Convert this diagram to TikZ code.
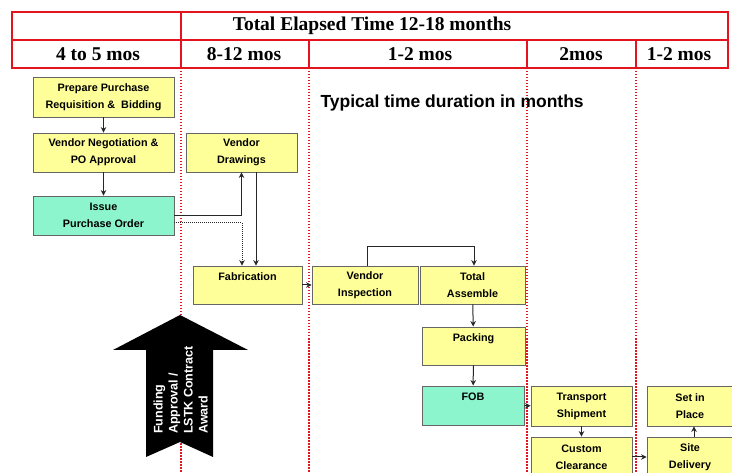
\documentclass[tikz,border=0pt]{standalone}
\usepackage{fontspec}
\setmainfont{Liberation Serif}
\setsansfont{Liberation Sans}
\usepackage{tikz}
\usetikzlibrary{positioning}
\usetikzlibrary{calc,arrows.meta}

\definecolor{BoxYellow}{RGB}{255,255,153}
\definecolor{BoxTeal}{RGB}{140,245,205}
\definecolor{HeadRed}{RGB}{228,20,30}

\begin{document}
\begin{tikzpicture}[x=1pt,y=-1pt,
	task/.style={draw=black!60,line width=0.9pt,fill=BoxYellow,inner sep=0pt,
		align=center,font=\sffamily\bfseries\fontsize{10.8}{17}\selectfont},
	milestone/.style={task,fill=BoxTeal},
	link/.style={line width=1pt,black!85,-{Stealth[length=5.5pt,width=5.5pt]}},
	phase/.style={HeadRed,line width=2pt,dash pattern=on 1.5pt off 1.5pt},
	head/.style={font=\bfseries\fontsize{19.5}{21}\selectfont}]
	
	\useasboundingbox (0,0) rectangle (732,473);
	\clip (0,0) rectangle (732,473);
	
	% phase separators, drawn first so the boxes sit on top
	\foreach \px in {181,309,527,636}
		\draw[phase] (\px,68) -- (\px,473);
	
	%%%%%%%%%%%%%%%%%%%%%%%%%%%%%%%%%%%%%%%%%%%%%%%%%%%%%%%%%%%%%%
	% header table
	\draw[HeadRed,line width=1.5pt] (12,40) -- (728,40);
	\draw[HeadRed,line width=1.5pt] (181,12) -- (181,68);
	\foreach \px in {309,527,636}
		\draw[HeadRed,line width=1.5pt] (\px,40) -- (\px,68);
	\draw[HeadRed,line width=2.6pt] (12,12) rectangle (728,68);
	
	\node[head] (Total) at (372,26) {Total Elapsed Time 12-18 months};
	\node[head] (P1) at (98,54)  {4 to 5 mos};
	\node[head] (P2) at (244,54) {8-12 mos};
	\node[head] (P3) at (420,54) {1-2 mos};
	\node[head] (P4) at (581,54) {2mos};
	\node[head] (P5) at (679,54) {1-2 mos};
	
	\node[anchor=west,font=\sffamily\bfseries\fontsize{17.5}{20}\selectfont] (Typical) at (317,103) {Typical time duration in months};
	
	%%%%%%%%%%%%%%%%%%%%%%%%%%%%%%%%%%%%%%%%%%%%%%%%%%%%%%%%%%%%%%
	% funding arrow
	\fill[black] (180,315) -- (248,350) -- (213,350) -- (213,457) -- (180,442)
		-- (146,457) -- (146,350) -- (113,350) -- cycle;
	\node[rotate=90,anchor=south west,white,align=left,inner sep=0pt,
		font=\sffamily\bfseries\fontsize{12.5}{15}\selectfont] (Award) at (208,434)
		{Funding\\Approval /\\LSTK Contract\\Award};
	
	%%%%%%%%%%%%%%%%%%%%%%%%%%%%%%%%%%%%%%%%%%%%%%%%%%%%%%%%%%%%%%
	% tasks
	\node[task,minimum width=141,minimum height=40] (Prep)  at (103.5,97)  {Prepare Purchase\\Requisition \&\ \ Bidding};
	\node[task,minimum width=141,minimum height=39] (VNeg)  at (103.5,152.5) {Vendor Negotiation \&\\PO Approval};
	\node[milestone,minimum width=141,minimum height=39] (Issue) at (103.5,215.5) {Issue\\Purchase Order};
	\node[task,minimum width=111,minimum height=39] (VDraw) at (241.5,152.5) {Vendor\\Drawings};
	\node[task,minimum width=109,minimum height=38] (Fab)   at (247.5,285) {Fabrication\\~};
	\node[task,minimum width=106,minimum height=38] (VInsp) at (365,285)   {Vendor\\Inspection};
	\node[task,minimum width=105,minimum height=38] (TAss)  at (472.5,285) {Total\\Assemble};
	\node[task,minimum width=103,minimum height=38] (Pack)  at (473.5,346) {Packing\\~};
	\node[milestone,minimum width=102,minimum height=39] (FOB) at (473,405.5) {FOB\\~};
	\node[task,minimum width=101,minimum height=40] (Trans) at (581.5,406) {Transport\\Shipment};
	\node[task,minimum width=101,minimum height=40] (Cust)  at (581.5,457) {Custom\\Clearance};
	\node[task,minimum width=86,minimum height=40]  (SetIn) at (690,406)   {Set in\\Place};
	\node[task,minimum width=86,minimum height=40]  (Site)  at (690,457)   {Site\\Delivery};
	
	%%%%%%%%%%%%%%%%%%%%%%%%%%%%%%%%%%%%%%%%%%%%%%%%%%%%%%%%%%%%%%
	% links
	\draw[link] (Prep) -- (VNeg);
	\draw[link] (VNeg) -- (Issue);
	\draw[link] (Issue.east) -| (VDraw.south);
	\draw[link,densely dotted] ([yshift=-7]Issue.east) -| ([xshift=-5.5]Fab.north);
	\draw[link] ([xshift=14.5]VDraw.south) -- ([xshift=14.5]VDraw.south |- Fab.north);
	\draw[link] (Fab) -- (VInsp);
	\draw[link] ([xshift=2]VInsp.north) -- ++(0,-19) -| ([xshift=1.5]TAss.north);
	\draw[link] (TAss) -- (Pack);
	\draw[link] (Pack) -- (FOB);
	\draw[link] (FOB) -- (Trans);
	\draw[link] (Trans) -- (Cust);
	\draw[link] (Cust) -- (Site);
	\draw[link] ([xshift=4]Site.north) -- ([xshift=4]SetIn.south);
	
\end{tikzpicture}
\end{document}
